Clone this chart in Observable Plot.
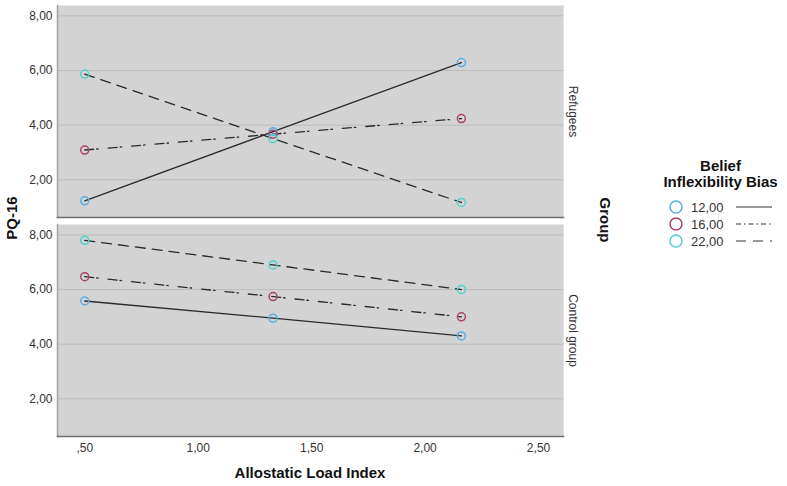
<!DOCTYPE html>
<html>
<head>
<meta charset="utf-8">
<script src="https://cdn.jsdelivr.net/npm/d3@7"></script>
<script src="https://cdn.jsdelivr.net/npm/@observablehq/plot@0.6"></script>
<style>
  html, body { margin: 0; padding: 0; background: #fff; }
  #wrap { position: relative; width: 787px; height: 486px; font-family: "Liberation Sans", Arial, sans-serif; }
  .lbl { position: absolute; font-weight: bold; color: #111; white-space: nowrap; }
</style>
</head>
<body>
<div id="wrap"></div>
<script>
// ---- data ----
const groups = ["Refugees", "Control group"];
const allostatic = [0.50, 1.33, 2.16];
const biasLevels = ["12,00", "16,00", "22,00"];
const refugees12 = [1.23, 3.76, 6.29];
const refugees16 = [3.09, 3.67, 4.24];
const refugees22 = [5.87, 3.51, 1.17];
const control12 = [5.58, 4.95, 4.30];
const control16 = [6.47, 5.74, 5.00];
const control22 = [7.80, 6.90, 6.00];
const xTicks = [0.5, 1.0, 1.5, 2.0, 2.5];
const yTicks = [2, 4, 6, 8];

const biasColors = ["#5aaee6", "#ab4468", "#55d0cc"];
const biasDash = [null, "9,3,1.5,10", "10,7"];

const series = [
  [groups[0], biasLevels[0], refugees12],
  [groups[0], biasLevels[1], refugees16],
  [groups[0], biasLevels[2], refugees22],
  [groups[1], biasLevels[0], control12],
  [groups[1], biasLevels[1], control16],
  [groups[1], biasLevels[2], control22]
];
const rows = [];
for (const [g, b, vals] of series) {
  vals.forEach((v, i) => rows.push({group: g, bias: b, x: allostatic[i], y: v}));
}

const fmt = d => {
  const s = d.toFixed(2).replace(".", ",");
  return s.startsWith("0,") ? s.slice(1) : s;
};

const lineMarks = biasLevels.map((b, i) =>
  Plot.line(rows.filter(r => r.bias === b), {
    x: "x", y: "y", fy: "group", z: "group",
    stroke: "#2a2a2a", strokeWidth: 1.3,
    strokeDasharray: biasDash[i] || undefined
  })
);

const chart = Plot.plot({
  width: 787,
  height: 486,
  marginLeft: 57,
  marginRight: 224,
  marginTop: 4,
  marginBottom: 50,
  style: {fontFamily: "Liberation Sans, Arial, sans-serif", fontSize: "12px", color: "#333", background: "transparent"},
  x: {domain: [0.38, 2.61], axis: null},
  y: {domain: [0.62, 8.38], axis: null},
  fy: {domain: groups, paddingInner: 0.032, paddingOuter: 0, axis: null},
  color: {domain: biasLevels, range: biasColors},
  marks: [
    Plot.frame({fill: "#d3d3d3", stroke: null}),
    Plot.gridY({ticks: yTicks, stroke: "#bcbcbc", strokeOpacity: 1, strokeWidth: 1}),
    Plot.frame({anchor: "left", stroke: "#a2a2a2", strokeWidth: 1.5}),
    Plot.frame({anchor: "right", stroke: "#e2e2e2", strokeWidth: 1}),
    Plot.frame({anchor: "bottom", stroke: "#6e6e6e", strokeWidth: 1.6}),
    Plot.axisY({ticks: yTicks, tickFormat: fmt, tickSize: 0, tickPadding: 5, label: null, fill: "#333", fontSize: 12}),
    Plot.axisX({ticks: xTicks, tickFormat: fmt, tickSize: 0, tickPadding: 7, label: null, fill: "#333", fontSize: 12}),
    Plot.axisFy({anchor: "right", tickRotate: 90, tickSize: 0, tickPadding: 14, label: null, fill: "#333", fontSize: 12}),
    ...lineMarks,
    Plot.dot(rows, {x: "x", y: "y", fy: "group", stroke: "bias", r: 4, strokeWidth: 1.5, fill: "none"})
  ]
});

const wrap = document.getElementById("wrap");
chart.style.position = "absolute";
chart.style.left = "0px";
chart.style.top = "0px";
wrap.appendChild(chart);

function addLabel(text, css) {
  const d = document.createElement("div");
  d.className = "lbl";
  d.textContent = text;
  Object.assign(d.style, css);
  wrap.appendChild(d);
  return d;
}
addLabel("Allostatic Load Index", {left: "310px", top: "472px", fontSize: "15px", transform: "translate(-50%,-50%)"});
addLabel("PQ-16", {left: "11px", top: "218px", fontSize: "15px", transform: "translate(-50%,-50%) rotate(-90deg)"});
addLabel("Group", {left: "605px", top: "220px", fontSize: "15px", transform: "translate(-50%,-50%) rotate(90deg)"});

// legend
const leg = document.createElement("div");
leg.style.position = "absolute";
leg.style.left = "660px";
leg.style.top = "158px";
leg.style.width = "127px";
leg.innerHTML = `<div style="text-align:center;font-weight:bold;font-size:15px;line-height:16px;color:#111;margin-left:-6px;">Belief<br>Inflexibility Bias</div>`;
wrap.appendChild(leg);

const ns = "http://www.w3.org/2000/svg";
const lsvg = document.createElementNS(ns, "svg");
lsvg.setAttribute("width", 127);
lsvg.setAttribute("height", 60);
lsvg.style.position = "absolute";
lsvg.style.left = "660px";
lsvg.style.top = "196px";
biasLevels.forEach((b, i) => {
  const cy = 11 + i * 17;
  const c = document.createElementNS(ns, "circle");
  c.setAttribute("cx", 16); c.setAttribute("cy", cy); c.setAttribute("r", 6);
  c.setAttribute("fill", "none"); c.setAttribute("stroke", biasColors[i]); c.setAttribute("stroke-width", 1.5);
  lsvg.appendChild(c);
  const t = document.createElementNS(ns, "text");
  t.setAttribute("x", 31); t.setAttribute("y", cy + 5);
  t.setAttribute("font-size", 13); t.setAttribute("fill", "#333");
  t.setAttribute("font-family", "Liberation Sans, Arial, sans-serif");
  t.textContent = b;
  lsvg.appendChild(t);
  const l = document.createElementNS(ns, "line");
  l.setAttribute("x1", 76); l.setAttribute("x2", 112); l.setAttribute("y1", cy); l.setAttribute("y2", cy);
  l.setAttribute("stroke", "#333"); l.setAttribute("stroke-width", 1.1);
  if (biasDash[i]) l.setAttribute("stroke-dasharray", i === 1 ? "5,3,1.5,3" : "10,7");
  lsvg.appendChild(l);
});
wrap.appendChild(lsvg);
</script>
</body>
</html>
